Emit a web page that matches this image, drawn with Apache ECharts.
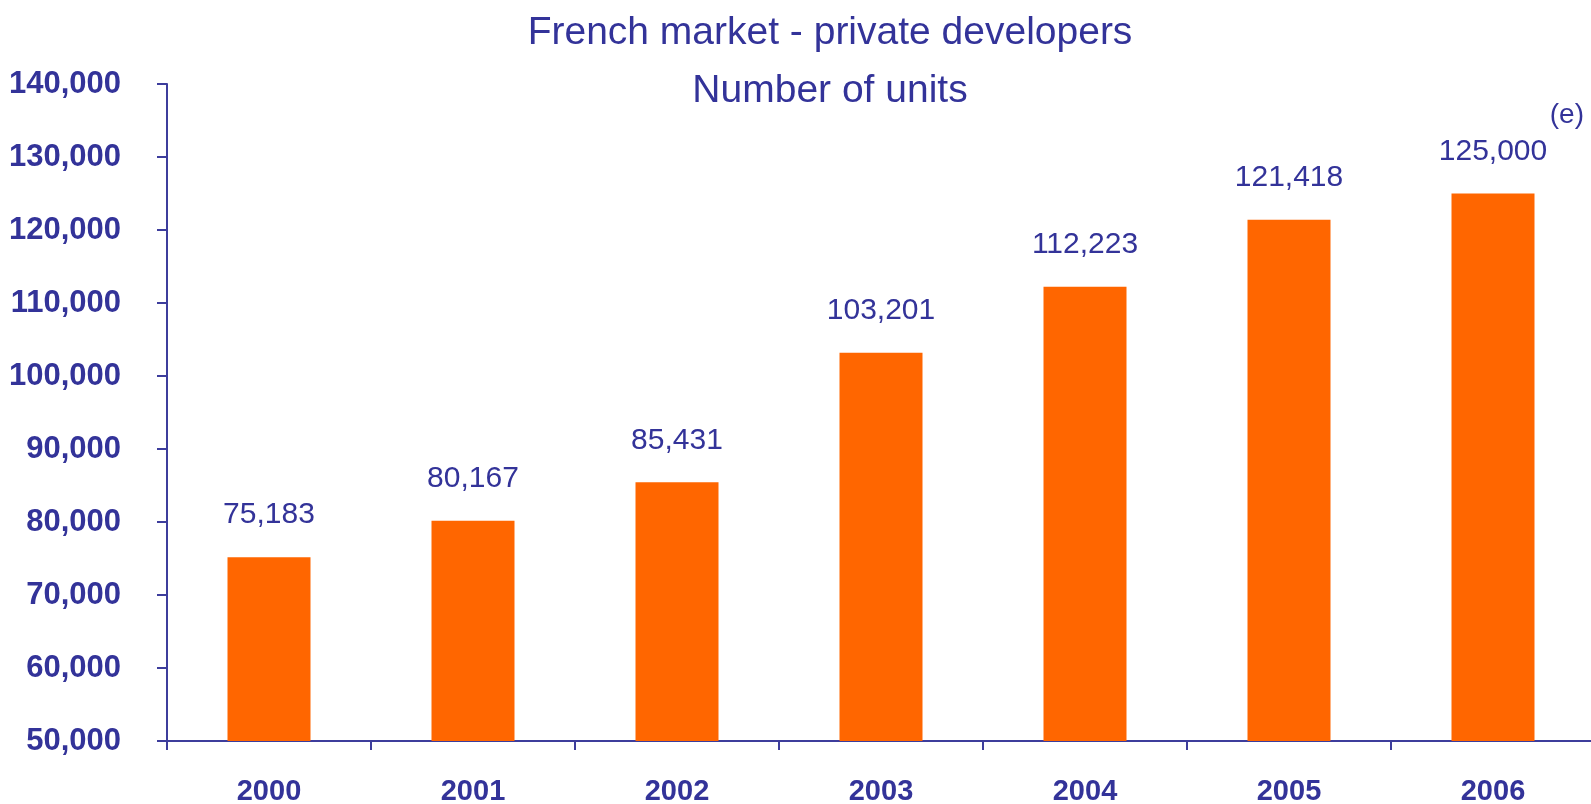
<!DOCTYPE html>
<html>
<head>
<meta charset="utf-8">
<style>
  html, body { margin: 0; padding: 0; background: #ffffff; }
  #chart { width: 1591px; height: 804px; }
</style>
<script src="https://cdn.jsdelivr.net/npm/echarts@6/dist/echarts.min.js"></script>
</head>
<body>
<div id="chart"></div>
<script>
// Number of units sold by private developers on the French market
const years = ['2000', '2001', '2002', '2003', '2004', '2005', '2006'];
const units = [75183, 80167, 85431, 103201, 112223, 121418, 125000];
const titleLines = ['French market - private developers', 'Number of units'];
const estimateNote = '(e)';

const NAVY = '#333399';
const AXIS = '#3d3d9c';
const ORANGE = '#ff6600';
const FONT = '"Liberation Sans Narrow", "Arial Narrow", "Liberation Sans", sans-serif';

const fmt = v => v.toLocaleString('en-US');

const chart = echarts.init(document.getElementById('chart'), null, { renderer: 'canvas' });

chart.setOption({
  backgroundColor: '#ffffff',
  animation: false,
  title: [
    {
      text: titleLines.join('\n'),
      left: 825,
      top: -1,
      textAlign: 'center',
      textStyle: { color: NAVY, fontFamily: FONT, fontWeight: 'normal', fontSize: 39, lineHeight: 58 }
    },
    {
      text: estimateNote,
      right: 2,
      top: 96,
      textStyle: { color: NAVY, fontFamily: FONT, fontWeight: 'normal', fontSize: 28 }
    }
  ],
  grid: {
    left: 167, top: 84, width: 1428, height: 657,
    containLabel: false,
    outerBoundsMode: 'none'
  },
  xAxis: {
    type: 'category',
    data: years,
    boundaryGap: true,
    axisLine: { show: true, lineStyle: { color: AXIS, width: 2 } },
    axisTick: { show: true, length: 9, lineStyle: { color: AXIS, width: 2 } },
    axisLabel: { color: NAVY, fontFamily: FONT, fontWeight: 'bold', fontSize: 29, margin: 36 }
  },
  yAxis: {
    type: 'value',
    min: 50000,
    max: 140000,
    interval: 10000,
    axisLine: { show: true, lineStyle: { color: AXIS, width: 2 } },
    axisTick: { show: true, length: 10, lineStyle: { color: AXIS, width: 2 } },
    splitLine: { show: false },
    axisLabel: { color: NAVY, fontFamily: FONT, fontWeight: 'bold', fontSize: 31, margin: 46, formatter: fmt }
  },
  series: [{
    type: 'bar',
    data: units,
    barWidth: 83,
    itemStyle: { color: ORANGE },
    label: {
      show: true,
      position: 'top',
      distance: 27,
      color: NAVY,
      fontFamily: FONT,
      fontWeight: 'normal',
      fontSize: 30,
      formatter: p => fmt(p.value)
    }
  }]
});
</script>
</body>
</html>
